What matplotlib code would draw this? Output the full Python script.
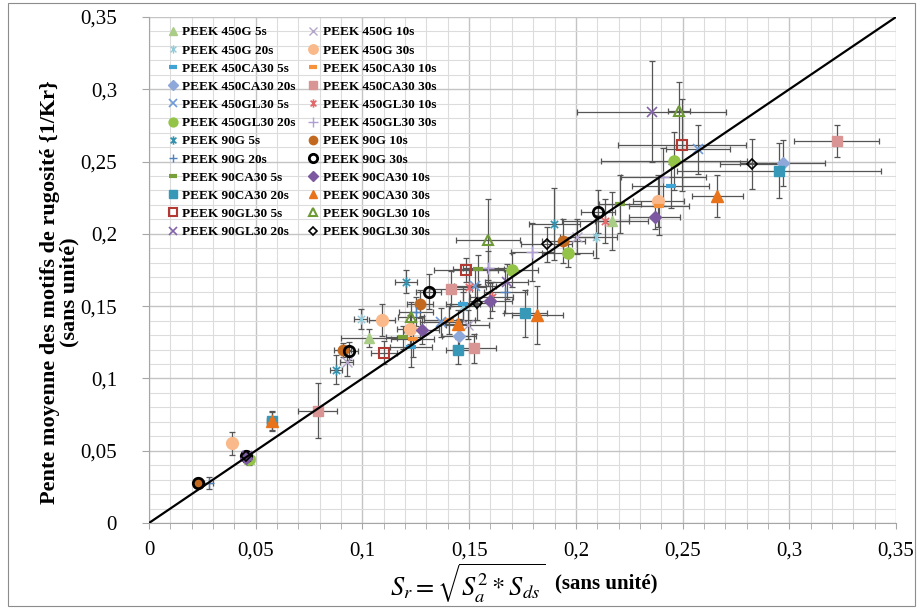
import numpy as np
import matplotlib
matplotlib.use('Agg')
import matplotlib.pyplot as plt
from matplotlib.path import Path
from matplotlib.ticker import MultipleLocator, FuncFormatter
from matplotlib.patches import Rectangle

# series names (Excel legend order)
names = ['PEEK 450G 5s', 'PEEK 450G 10s', 'PEEK 450G 20s', 'PEEK 450G 30s',
         'PEEK 450CA30 5s', 'PEEK 450CA30 10s', 'PEEK 450CA30 20s', 'PEEK 450CA30 30s',
         'PEEK 450GL30 5s', 'PEEK 450GL30 10s', 'PEEK 450GL30 20s', 'PEEK 450GL30 30s',
         'PEEK 90G 5s', 'PEEK 90G 10s', 'PEEK 90G 20s', 'PEEK 90G 30s',
         'PEEK 90CA30 5s', 'PEEK 90CA30 10s', 'PEEK 90CA30 20s', 'PEEK 90CA30 30s',
         'PEEK 90GL30 5s', 'PEEK 90GL30 10s', 'PEEK 90GL30 20s', 'PEEK 90GL30 30s']

# Sr = sqrt(Sa^2 * Sds)
sr = [[0.047, 0.103, 0.217],
      [0.0926, 0.1493, 0.2004],
      [0.0992, 0.147, 0.2094],
      [0.0389, 0.1093, 0.1222, 0.2386],
      [0.1227, 0.147, 0.2444],
      [0.1236, 0.1407, 0.239],
      [0.0455, 0.1454, 0.2969],
      [0.079, 0.1413, 0.1524, 0.3222],
      [0.1368, 0.1527, 0.2571],
      [0.150, 0.1605, 0.2136],
      [0.047, 0.1702, 0.1962, 0.246],
      [0.159, 0.1796, 0.241],
      [0.0876, 0.1204, 0.1899],
      [0.023, 0.0907, 0.127, 0.1941],
      [0.028, 0.125, 0.167],
      [0.023, 0.0455, 0.0939, 0.131, 0.2102],
      [0.119, 0.1543, 0.2207],
      [0.0455, 0.1277, 0.160, 0.237],
      [0.0575, 0.145, 0.1763, 0.2952],
      [0.0575, 0.1446, 0.1819, 0.2662],
      [0.110, 0.1484, 0.2496],
      [0.1227, 0.159, 0.2483],
      [0.046, 0.1676, 0.2355],
      [0.0455, 0.1538, 0.1863, 0.2824]]

# pente moyenne 1/Kr
pente = [[0.044, 0.128, 0.209],
         [0.1116, 0.137, 0.198],
         [0.1411, 0.150, 0.198],
         [0.0551, 0.1404, 0.134, 0.223],
         [0.122, 0.1515, 0.233],
         [0.127, 0.1404, 0.219],
         [0.046, 0.1294, 0.2488],
         [0.0777, 0.162, 0.121, 0.2645],
         [0.139, 0.164, 0.2585],
         [0.1635, 0.1566, 0.209],
         [0.044, 0.175, 0.187, 0.2506],
         [0.1762, 0.1872, 0.2395],
         [0.106, 0.167, 0.2066],
         [0.028, 0.1197, 0.1515, 0.195],
         [0.0275, 0.146, 0.160],
         [0.028, 0.046, 0.119, 0.160, 0.2153],
         [0.1284, 0.1755, 0.2206],
         [0.045, 0.1335, 0.1538, 0.2114],
         [0.0706, 0.120, 0.145, 0.2437],
         [0.0706, 0.1374, 0.1439, 0.226],
         [0.1178, 0.175, 0.2615],
         [0.1427, 0.1958, 0.2852],
         [0.046, 0.167, 0.2845],
         [0.046, 0.1524, 0.1928, 0.2483]]

sr_err = [[0.002, 0.013, 0.008],
          [0.003, 0.010, 0.008],
          [0.003, 0.006, 0.010],
          [0.002, 0.006, 0.006, 0.012],
          [0.010, 0.008, 0.018],
          [0.010, 0.012, 0.014],
          [0.002, 0.008, 0.020],
          [0.009, 0.010, 0.010, 0.020],
          [0.010, 0.010, 0.015],
          [0.008, 0.010, 0.020],
          [0.002, 0.012, 0.012, 0.034],
          [0.012, 0.010, 0.020],
          [0.003, 0.005, 0.012],
          [0.001, 0.004, 0.006, 0.010],
          [0.002, 0.008, 0.010],
          [0.001, 0.002, 0.004, 0.006, 0.008],
          [0.008, 0.012, 0.010],
          [0.002, 0.008, 0.010, 0.012],
          [0.002, 0.006, 0.010, 0.048],
          [0.002, 0.006, 0.012, 0.012],
          [0.006, 0.015, 0.030],
          [0.006, 0.015, 0.005],
          [0.002, 0.010, 0.035],
          [0.002, 0.008, 0.012, 0.015]]

pente_err = [[0.004, 0.006, 0.020],
             [0.010, 0.010, 0.012],
             [0.007, 0.010, 0.015],
             [0.008, 0.011, 0.010, 0.018],
             [0.014, 0.012, 0.015],
             [0.012, 0.010, 0.020],
             [0.003, 0.012, 0.016],
             [0.019, 0.012, 0.010, 0.011],
             [0.010, 0.012, 0.017],
             [0.012, 0.010, 0.015],
             [0.003, 0.012, 0.010, 0.020],
             [0.012, 0.020, 0.020],
             [0.010, 0.008, 0.025],
             [0.003, 0.005, 0.010, 0.015],
             [0.004, 0.010, 0.015],
             [0.003, 0.004, 0.006, 0.012, 0.015],
             [0.008, 0.010, 0.020],
             [0.003, 0.010, 0.012, 0.008],
             [0.006, 0.010, 0.016, 0.019],
             [0.007, 0.010, 0.020, 0.0145],
             [0.008, 0.008, 0.032],
             [0.010, 0.028, 0.020],
             [0.003, 0.012, 0.035],
             [0.004, 0.012, 0.012, 0.017]]

# excel style star marker: x with a vertical bar
star = Path([(0, -1), (0, 1), (-0.7, -0.7), (0.7, 0.7), (-0.7, 0.7), (0.7, -0.7)],
            [Path.MOVETO, Path.LINETO, Path.MOVETO, Path.LINETO, Path.MOVETO, Path.LINETO])

# marker, colour, filled, size, edge width
styles = [('^', '#A9CD86', True, 7.5, 1),
          ('x', '#B3A6C9', True, 6.5, 1),
          (star, '#8FCBDB', True, 7.5, 1),
          ('o', '#F9B98A', True, 8.5, 1),
          ('_', '#3FA3D3', True, 6.5, 3),
          ('_', '#F7923C', True, 7.5, 3),
          ('D', '#8EA8DA', True, 6, 1),
          ('s', '#D99594', True, 7.5, 1),
          ('x', '#6F9AD8', True, 7.5, 1.2),
          (star, '#E2696B', True, 7.5, 1.2),
          ('o', '#93C447', True, 8, 1),
          ('+', '#B09FD4', True, 8.5, 1),
          (star, '#3592AE', True, 7.5, 1.2),
          ('o', '#C3691F', True, 7.5, 1),
          ('+', '#4F81BD', True, 7.5, 1),
          ('o', '#000000', False, 7.5, 2),
          ('_', '#77A03A', True, 7.5, 3),
          ('D', '#7B589F', True, 6, 1),
          ('s', '#3898B8', True, 7.5, 1),
          ('^', '#E8731A', True, 8, 1),
          ('s', '#B23A33', False, 7.5, 1.5),
          ('^', '#6E9A36', False, 7.5, 1.5),
          ('x', '#8363A9', True, 7.5, 1.2),
          ('D', '#000000', False, 5, 1.2)]

serif = ['Liberation Serif', 'DejaVu Serif']

fig = plt.figure(figsize=(9.23, 6.08), dpi=100)
ax = fig.add_axes([149 / 923, 1 - 523 / 608, 747 / 923, 506 / 608])

handles = []
for i, name in enumerate(names):
    mk, col, filled, ms, mew = styles[i]
    ax.errorbar(sr[i], pente[i], xerr=sr_err[i], yerr=pente_err[i], fmt='none',
                ecolor='#555555', elinewidth=0.9, capsize=2.5, capthick=0.9, zorder=2)
    h, = ax.plot(sr[i], pente[i], linestyle='none', marker=mk, markersize=ms,
                 markerfacecolor=col if filled else 'none', markeredgecolor=col,
                 markeredgewidth=mew, zorder=3, label=name)
    handles.append(h)

ax.plot([0, 0.35], [0, 0.35], color='black', lw=1.6, zorder=4)

ax.set_xlim(0, 0.35)
ax.set_ylim(0, 0.35)
ticks = np.arange(0, 0.351, 0.05)
ax.set_xticks(ticks)
ax.set_yticks(ticks)
ax.xaxis.set_minor_locator(MultipleLocator(0.01))
ax.yaxis.set_minor_locator(MultipleLocator(0.01))
fmt = FuncFormatter(lambda v, p: ('%g' % round(v, 2)).replace('.', ','))
ax.xaxis.set_major_formatter(fmt)
ax.yaxis.set_major_formatter(fmt)

ax.grid(which='major', color='#c4c4c4', lw=1.0, zorder=0)
ax.grid(which='minor', color='#dcdcdc', lw=0.8, zorder=0)
ax.set_axisbelow(True)
for s in ['top', 'right']:
    ax.spines[s].set_visible(False)
for s in ['left', 'bottom']:
    ax.spines[s].set_color('#a6a6a6')
ax.tick_params(axis='y', which='major', length=5, color='#a6a6a6', pad=18)
ax.tick_params(axis='y', which='minor', length=0)
ax.tick_params(axis='x', which='both', length=4, color='#a6a6a6', pad=9)

for lab in ax.get_yticklabels():
    lab.set_fontfamily(serif)
    lab.set_fontsize(15)
for lab in ax.get_xticklabels():
    lab.set_fontfamily(serif)
    lab.set_fontsize(15)

ax.set_ylabel('Pente moyenne des motifs de rugosité {1/Kr}\n(sans unité)',
              fontfamily=serif, fontweight='bold', fontsize=16, linespacing=1.0)
ax.yaxis.set_label_coords(-0.093, 0.456)

fig.text(0.59, 0.041, r'$S_r = \sqrt{S_a^2 * S_{ds}}$', fontsize=19,
         ha='right', va='center', math_fontfamily='stix')
fig.text(0.601, 0.041, '(sans unité)', fontsize=15, fontweight='bold',
         fontfamily=serif, ha='left', va='center')

# legend: excel fills row by row, matplotlib column by column
order = list(range(0, 24, 2)) + list(range(1, 24, 2))
ax.legend([handles[k] for k in order], [names[k] for k in order], ncol=2,
          loc='upper left', bbox_to_anchor=(0.024, 0.982), frameon=False,
          prop={'family': serif, 'weight': 'bold', 'size': 9.5},
          handlelength=0.9, handletextpad=0.25, labelspacing=0.45, columnspacing=0.9,
          borderaxespad=0, borderpad=0, markerscale=0.8)

fig.patches.append(Rectangle((8 / 923, 2 / 608), 907 / 923, 603 / 608, transform=fig.transFigure,
                             fill=False, edgecolor='#8c8c8c', lw=0.8))

fig.savefig('out.png', dpi=100)
